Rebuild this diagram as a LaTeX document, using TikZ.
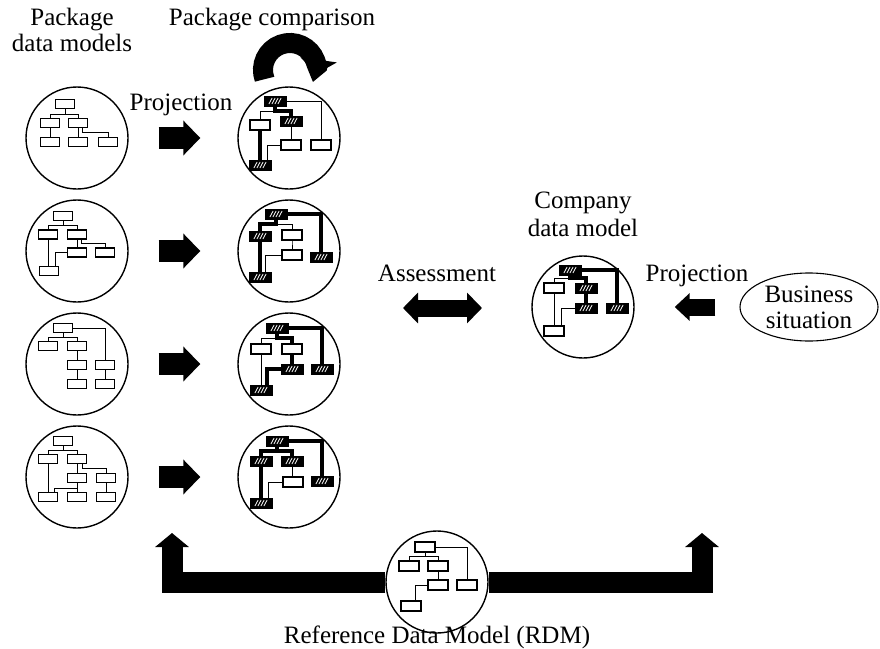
\documentclass[tikz,border=0pt]{standalone}
\usepackage{fontspec}
\setmainfont{Liberation Serif}
\usepackage{tikz}
\usetikzlibrary{positioning,arrows.meta,calc,shapes.geometric}

\tikzset{
  model/.style={circle, draw, line width=1.4pt, minimum size=102pt, inner sep=0pt},
  lbl/.style={font=\fontsize{25}{26}\selectfont, align=center, inner sep=0pt},
  fatarrow/.style={line width=22pt, -{Triangle[length=17pt, width=34pt]}},
  dblarrow/.style={line width=17pt, {Triangle[length=15pt, width=30pt]}-{Triangle[length=15pt, width=30pt]}},
  backarrow/.style={line width=17pt, -{Triangle[length=15pt, width=27pt]}},
  fatbar/.style={line width=21pt, line join=miter, -{Triangle[length=14pt, width=33pt]}},
  loopband/.style={line width=20pt, -{Triangle[length=14pt, width=36pt]}},
  thinln/.style={line width=1pt},
  thickln/.style={line width=3.2pt},
}

\newcommand{\pkgbox}[2]{\draw[line width=1.2pt, fill=white] (#1,#2) ++(-9.5,-4.5) rectangle ++(19,9);}
\newcommand{\plainbox}[2]{\draw[line width=1.2pt, fill=white] (#1,#2) ++(-10,-5) rectangle ++(20,10);}
\newcommand{\hatchbox}[2]{\fill (#1,#2) ++(-11.5,-5.5) rectangle ++(23,11);
  \foreach \s in {-4.5,-1.5,1.5,4.5}
    \draw[white, line width=0.8pt] ({#1+\s-1.6},{#2+3}) -- ({#1+\s+1.6},{#2-3});}

\begin{document}
\begin{tikzpicture}[x=1pt, y=-1pt]
\useasboundingbox (0,0) rectangle (880,648);

\node[model] (pkgA) at (77,138) {};
\node[model] (pkgB) at (77,251) {};
\node[model] (pkgC) at (77,364) {};
\node[model] (pkgD) at (77,477) {};
\node[model] (cmpA) at (289,138) {};
\node[model] (cmpB) at (289,251) {};
\node[model] (cmpC) at (289,364) {};
\node[model] (cmpD) at (289,477) {};
\node[model] (company) at (583,307) {};
\node[model] (rdm) at (437,582) {};
\node[lbl, draw, ellipse, line width=1.1pt, minimum width=138pt, minimum height=68pt] (business) at (809,307) {Business\\situation};

\node[lbl, anchor=north] (pkglbl) at (72,8) {Package\\data models};
\node[lbl, anchor=base] (cmplbl) at (272,25) {Package comparison};
\node[lbl, anchor=base] (projL) at (181,110) {Projection};
\node[lbl, anchor=north, font=\fontsize{25}{28}\selectfont] (comlbl) at (583,192) {Company\\data model};
\node[lbl, anchor=base] (asmlbl) at (437,281) {Assessment};
\node[lbl, anchor=base] (projR) at (697,281) {Projection};
\node[lbl, anchor=base] (rdmlbl) at (437,643) {Reference Data Model (RDM)};

\foreach \r in {A,B,C,D}
  \draw[fatarrow, shorten <=30pt, shorten >=37pt] (pkg\r) -- (cmp\r);

\coordinate (loopS) at (264.6,79.2);
\begin{scope}[y=1pt]
\draw[loopband] (loopS) arc[start angle=200, end angle=-8, radius=27];
\end{scope}

\coordinate (asmL) at (403,308);
\coordinate (asmR) at (482,308);
\draw[dblarrow] (asmL) -- (asmR);
\draw[backarrow, shorten <=24pt, shorten >=40pt] (business) -- (company);

\coordinate (upL) at (172,533);
\coordinate (upR) at (702,533);
\draw[fatbar] (rdm.west) -| (upL);
\draw[fatbar] (rdm.east) -| (upR);

\begin{scope}[shift={(pkgA.center)}]
\draw[thinln] (-12,-34) -- (-12,-24) (-27,-15) |- (1,-24) -- (1,4) (-27,-15) -- (-27,4) (5,-15) |- (31,-6) -- (31,4);
\pkgbox{-12}{-34} \pkgbox{-27}{-15} \pkgbox{1}{-15} \pkgbox{-27}{4} \pkgbox{1}{4} \pkgbox{31}{4}
\end{scope}

\begin{scope}[shift={(pkgB.center)}]
\draw[thinln] (-14,-35) -- (-14,-26) (-29,-16.5) |- (0,-26) -- (0,1.5) (4,-16.5) |- (28,-8) -- (28,1.5) (-29,-16.5) -- (-29,20) (0,1.5) -| (-22,20);
\pkgbox{-14}{-35} \pkgbox{-29}{-16.5} \pkgbox{0}{-16.5} \pkgbox{0}{1.5} \pkgbox{28}{1.5} \pkgbox{-28}{20}
\end{scope}

\begin{scope}[shift={(pkgC.center)}]
\draw[thinln] (-14,-36) -- (-14,-27) (-29,-18) |- (0,-27) -- (0,20) (-14,-36) -| (28,20);
\pkgbox{-14}{-36} \pkgbox{-29}{-18} \pkgbox{0}{-18} \pkgbox{0}{1} \pkgbox{28}{1} \pkgbox{0}{20} \pkgbox{28}{20}
\end{scope}

\begin{scope}[shift={(pkgD.center)}]
\draw[thinln] (-14,-36) -- (-14,-27) (-29,-18) |- (0,-27) -- (0,20) (-29,-18) -- (-29,20) (5,-18) |- (29,-9) -- (29,20) (0,11) -| (-23,20);
\pkgbox{-14}{-36} \pkgbox{-29}{-18} \pkgbox{0}{-18} \pkgbox{0}{1} \pkgbox{29}{1} \pkgbox{-29}{20} \pkgbox{0}{20} \pkgbox{29}{20}
\end{scope}

\begin{scope}[shift={(cmpA.center)}]
\draw[thinln] (-14,-37) -| (32,7) (-14,-27) -| (-29,-13) (2,-17) -- (2,7) -| (-22,27);
\draw[thickln] (-14,-37) |- (2,-27) -- (2,-17) (-29,-13) -- (-29,27);
\hatchbox{-14}{-37} \plainbox{-29}{-13} \hatchbox{2}{-17} \plainbox{2}{7} \plainbox{32}{7} \hatchbox{-29}{27}
\end{scope}

\begin{scope}[shift={(cmpB.center)}]
\draw[thickln] (-13,-37) -| (32,6) (-13,-37) |- (-29,-27) -- (-29,26);
\draw[thinln] (-13,-27) -| (3,-16) -- (3,4) -| (-24,26);
\hatchbox{-13}{-37} \hatchbox{-29}{-15} \plainbox{3}{-16} \plainbox{3}{4} \hatchbox{32}{6} \hatchbox{-29}{26}
\end{scope}

\begin{scope}[shift={(cmpC.center)}]
\draw[thickln] (-12,-36) -| (33,5) (-12,-36) |- (3,-26) -- (3,5) -| (-22,26);
\draw[thinln] (-12,-26) -| (-28,26);
\hatchbox{-12}{-36} \plainbox{-28}{-15} \plainbox{3}{-15} \hatchbox{3}{5} \hatchbox{33}{5} \hatchbox{-28}{26}
\end{scope}

\begin{scope}[shift={(cmpD.center)}]
\draw[thickln] (-12,-36) -| (33,4) (-12,-36) -- (-12,-26) (-28,-16) |- (3,-26) -- (3,-16) (-28,-16) -- (-28,26);
\draw[thinln] (3,-16) -- (3,5) -| (-21,26);
\hatchbox{-12}{-36} \hatchbox{-28}{-16} \hatchbox{3}{-16} \plainbox{4}{5} \hatchbox{33}{4} \hatchbox{-28}{26}
\end{scope}

\begin{scope}[shift={(company.center)}]
\draw[thickln] (-13,-37) -| (34,1) (-13,-37) |- (3,-29) -- (3,1);
\draw[thinln] (-13,-29) -| (-29,24) (3,1) -| (-22,24);
\hatchbox{-13}{-37} \plainbox{-29}{-19} \hatchbox{3}{-19} \hatchbox{3}{1} \hatchbox{34}{1} \plainbox{-29}{24}
\end{scope}

\begin{scope}[shift={(rdm.center)}]
\draw[thinln] (-12,-35) -| (30,3) (-12,-35) -- (-12,-26) (-28,-16) |- (1,-26) -- (1,3) -| (-22,24);
\plainbox{-12}{-35} \plainbox{-28}{-16} \plainbox{1}{-16} \plainbox{1}{3} \plainbox{30}{3} \plainbox{-26}{24}
\end{scope}
\end{tikzpicture}
\end{document}
